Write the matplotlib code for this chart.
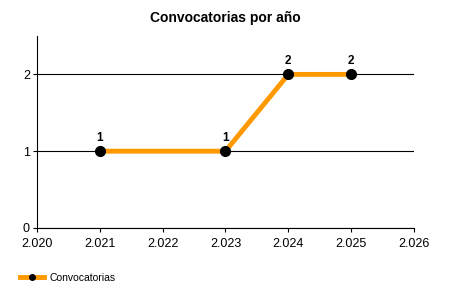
import matplotlib
matplotlib.use("Agg")
import matplotlib.pyplot as plt
from matplotlib.ticker import FuncFormatter, MultipleLocator
from matplotlib.lines import Line2D

plt.rcParams['font.family'] = ['Liberation Sans', 'DejaVu Sans']

years = [2021, 2023, 2024, 2025]
counts = [1, 1, 2, 2]
series_name = "Convocatorias"
title = "Convocatorias por año"

fig = plt.figure(figsize=(4.5, 3), dpi=100)
ax = fig.add_axes([0.082, 0.24, 0.838, 0.64])

ax.plot(years, counts, color='#FF9900', lw=3.5, marker='o', markersize=7,
        markerfacecolor='black', markeredgecolor='black', zorder=3, solid_capstyle='butt')
for x, y in zip(years, counts):
    ax.annotate(str(y), (x, y), xytext=(0, 5), textcoords='offset points',
                ha='center', va='bottom', fontsize=8.5, fontweight='bold')

ax.set_xlim(2020, 2026)
ax.set_ylim(0, 2.5)
ax.xaxis.set_major_locator(MultipleLocator(1))
ax.yaxis.set_major_locator(MultipleLocator(1))
ax.xaxis.set_major_formatter(FuncFormatter(lambda v, p: f"{int(round(v)):,}".replace(",", ".")))
ax.yaxis.set_major_formatter(FuncFormatter(lambda v, p: f"{int(round(v))}"))
ax.grid(axis='y', color='black', lw=0.8)
ax.set_axisbelow(True)
for s in ['top', 'right']:
    ax.spines[s].set_visible(False)
for s in ['left', 'bottom']:
    ax.spines[s].set_linewidth(0.8)
ax.tick_params(axis='both', labelsize=9, length=3, width=0.8)
ax.tick_params(axis='x', pad=4)
ax.tick_params(axis='y', pad=2)

fig.text(0.5, 0.94, title, ha='center', va='center', fontsize=10, fontweight='bold')

handle = Line2D([], [], color='#FF9900', lw=3.5, marker='o', markersize=4,
                markerfacecolor='black', markeredgecolor='black')
fig.legend([handle], [series_name], loc='center left', bbox_to_anchor=(0.045, 0.073),
           frameon=False, fontsize=7.5, handlelength=2.3, handletextpad=0.5,
           borderaxespad=0, borderpad=0)

fig.savefig("out.png", dpi=100)
